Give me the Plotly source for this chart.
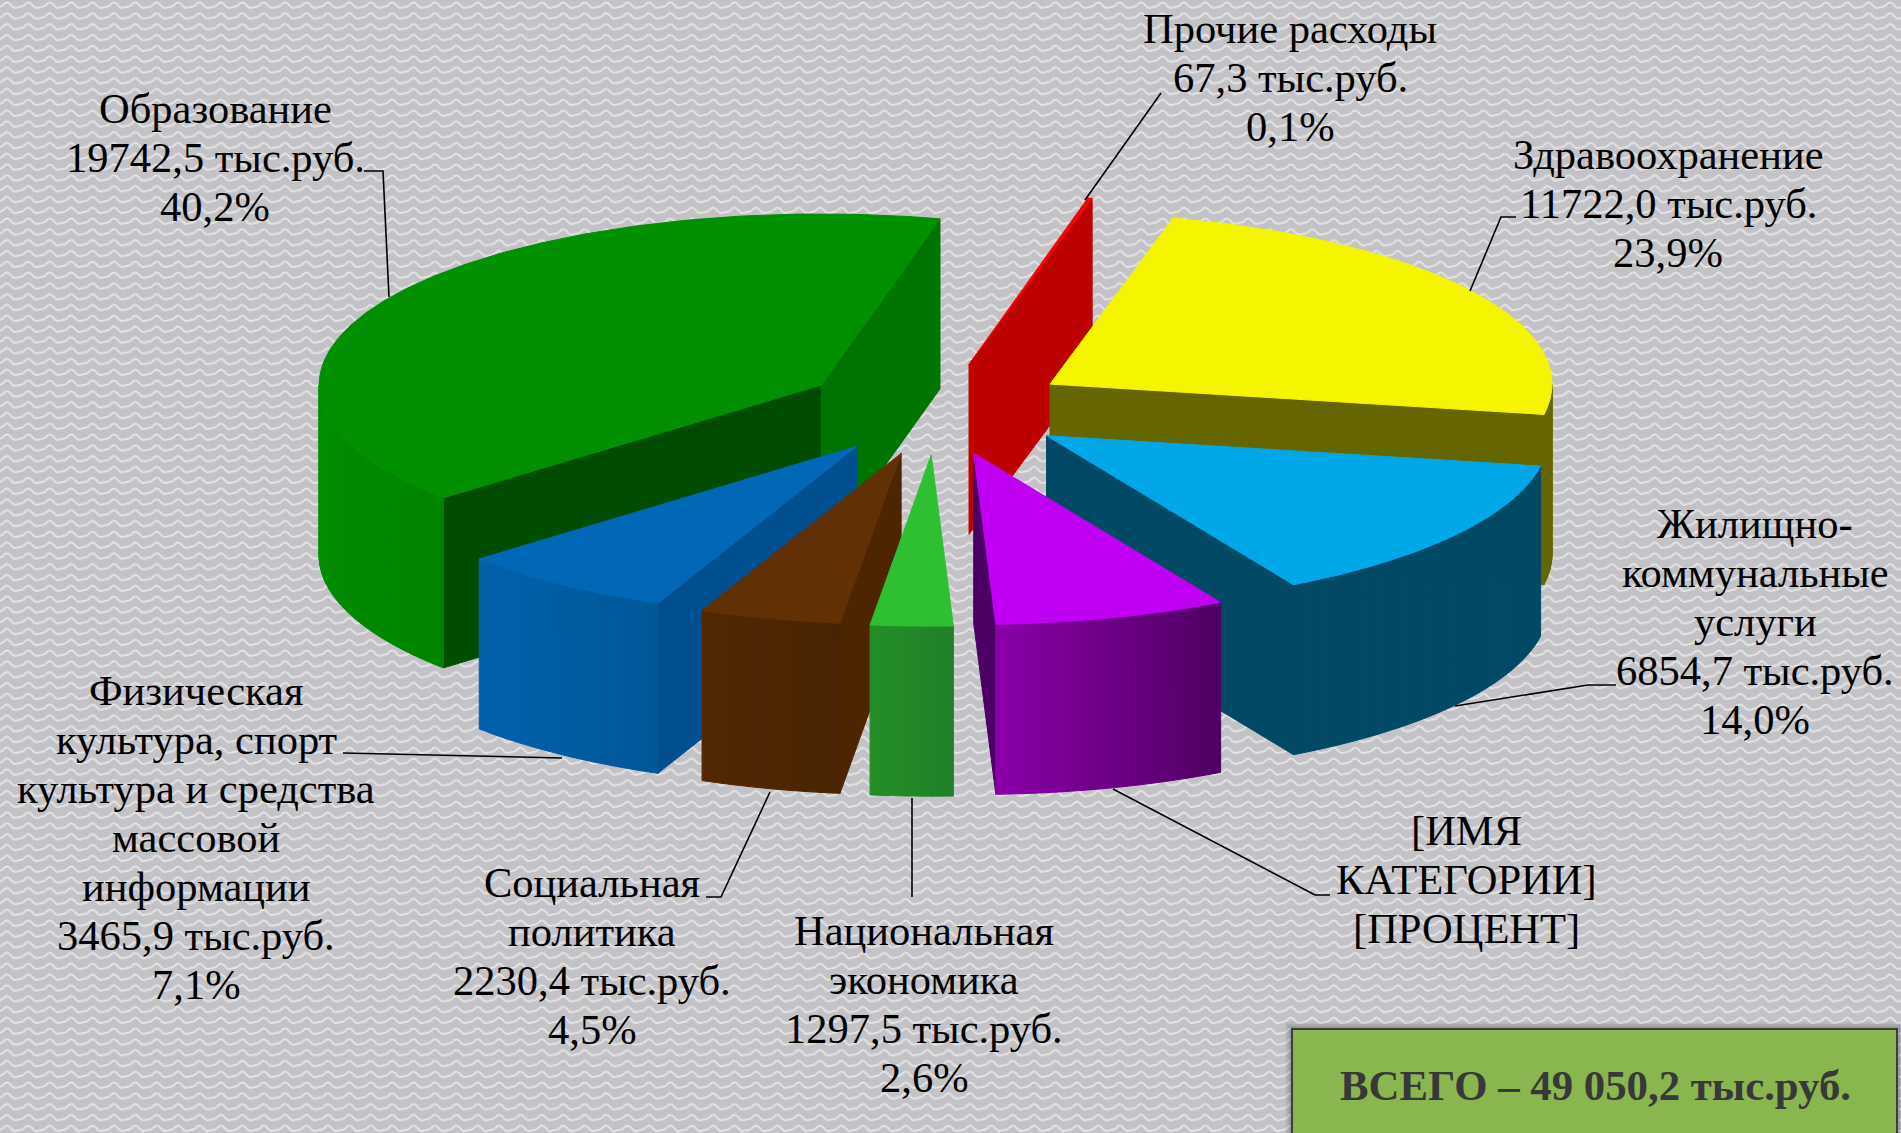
import base64
import math
import plotly.graph_objects as go

# ---------- data ----------
categories = ["Прочие расходы", "Здравоохранение", "Жилищно-коммунальные услуги",
              "[ИМЯ КАТЕГОРИИ]", "Национальная экономика", "Социальная политика",
              "Физическая культура, спорт, культура и средства массовой информации",
              "Образование"]
values = [67.3, 11722.0, 6854.7, 3670.4, 1297.5, 2230.4, 3465.9, 19742.5]
top_colors = ["#ff0000", "#f5f500", "#00a8e8", "#c000f2", "#2fc032", "#613004", "#0068b6", "#009000"]
side_right = ["#c00000", "#666600", "#004a66", "#4e0062", "#20802a", "#4a2402", "#005898", "#008400"]
side_left = ["#c00000", "#666600", "#004a66", "#8a00a8", "#248e26", "#532803", "#0062ad", "#009000"]
cut_colors = ["#bd0000", "#666600", "#004a66", "#4b0063", "#20802a", "#4d2600", "#005090", "#004d00"]
cut2_colors = ["#bd0000", "#666600", "#004a66", "#4b0063", "#20802a", "#4d2600", "#005090", "#007400"]
draw_order = [7, 0, 1, 2, 6, 5, 3, 4]

label_texts = [
    "Прочие расходы<br>67,3 тыс.руб.<br>0,1%",
    "Здравоохранение<br>11722,0 тыс.руб.<br>23,9%",
    "Жилищно-<br>коммунальные<br>услуги<br>6854,7 тыс.руб.<br>14,0%",
    "[ИМЯ<br>КАТЕГОРИИ]<br>[ПРОЦЕНТ]",
    "Национальная<br>экономика<br>1297,5 тыс.руб.<br>2,6%",
    "Социальная<br>политика<br>2230,4 тыс.руб.<br>4,5%",
    "Физическая<br>культура, спорт<br>культура и средства<br>массовой<br>информации<br>3465,9 тыс.руб.<br>7,1%",
    "Образование<br>19742,5 тыс.руб.<br>40,2%",
]
label_x = [1290, 1668, 1755, 1466, 924, 592, 196, 215]
label_y = [77, 203, 621, 879, 1004, 956, 837, 157]

leader_x = [[1161, 1085], [1516, 1501, 1470], [1616, 1588, 1455], [1330, 1315, 1113],
            [912, 912], [706, 721, 770], [343, 562], [364, 383, 389]]
leader_y = [[93, 200], [217, 217, 291], [685, 685, 706], [895, 895, 789],
            [897, 798], [897, 897, 792], [753, 758], [171, 171, 297]]

total_text = "ВСЕГО – 49 050,2 тыс.руб."

# ---------- projection of the exploded 3-D pie ----------
W, H = 1901, 1133
CX, CY = 936.5, 409
RADIUS, TILT, DEPTH, EXPLODE = 502, 0.341, 170, 135
START_DEG = 13.7
LINE_STEP = 49


def project(angle, r):
    a = math.radians(angle)
    return r * math.sin(a), -r * math.cos(a) * TILT


def mix(c1, c2, t):
    a = [int(c1[i:i + 2], 16) for i in (1, 3, 5)]
    b = [int(c2[i:i + 2], 16) for i in (1, 3, 5)]
    return "#%02x%02x%02x" % tuple(round(p + (q - p) * t) for p, q in zip(a, b))


fig = go.Figure()


def poly(xs, ys, color):
    fig.add_trace(go.Scatter(x=xs + xs[:1], y=ys + ys[:1], mode="lines", fill="toself",
                             fillcolor=color, line=dict(color=color, width=1),
                             hoverinfo="skip", showlegend=False))


total = sum(values)
bounds = [START_DEG]
for v in values:
    bounds.append(bounds[-1] + v / total * 360)

for i in draw_order:
    a1, a2 = bounds[i], bounds[i + 1]
    mid = (a1 + a2) / 2
    ex, ey = project(mid, EXPLODE)
    ox, oy = CX + ex, CY + ey

    def rim(a):
        dx, dy = project(a, RADIUS)
        return ox + dx, oy + dy

    # cut faces (visible only when they face the viewer)
    for edge, normal, col in ((a1, a1 - 90, cut_colors[i]), (a2, a2 + 90, cut2_colors[i])):
        if -math.cos(math.radians(normal)) > 0.02:
            rx, ry = rim(edge)
            poly([ox, rx, rx, ox], [oy, ry, ry + DEPTH, oy + DEPTH], col)

    # outer curved wall, cut into strips for the shading
    lo, hi = max(a1, 90), min(a2, 270)
    if lo < hi:
        n = max(2, int((hi - lo) / 0.8))
        for k in range(n):
            s = lo + (hi - lo) * k / n
            e = lo + (hi - lo) * (k + 1) / n
            (x1, y1), (x2, y2) = rim(s), rim(e)
            poly([x1, x2, x2, x1], [y1, y2, y2 + DEPTH, y1 + DEPTH],
                 mix(side_right[i], side_left[i], (k + 0.5) / n))

    # top face
    n = max(2, int((a2 - a1) / 0.8))
    pts = [rim(a1 + (a2 - a1) * k / n) for k in range(n + 1)]
    fig.add_trace(go.Scatter(x=[ox] + [p[0] for p in pts] + [ox],
                             y=[oy] + [p[1] for p in pts] + [oy],
                             mode="lines", fill="toself", fillcolor=top_colors[i],
                             line=dict(color=top_colors[i], width=1),
                             name=categories[i], text=f"{categories[i]}: {values[i]}",
                             hoverinfo="text", showlegend=False))

# ---------- leader lines ----------
for lx, ly in zip(leader_x, leader_y):
    fig.add_trace(go.Scatter(x=lx, y=ly, mode="lines", line=dict(color="#000000", width=1.6),
                             hoverinfo="skip", showlegend=False))

# ---------- labels ----------
for text, x, y in zip(label_texts, label_x, label_y):
    rows = text.split("<br>")
    for j, row in enumerate(rows):
        fig.add_annotation(x=x, y=y + (j - (len(rows) - 1) / 2) * LINE_STEP, text=row,
                           showarrow=False, xanchor="center", yanchor="middle", align="center",
                           font=dict(family="Liberation Serif", size=42.5, color="#000000"))

# ---------- total box ----------
for off, op in ((7, 0.05), (5, 0.07), (3, 0.10), (1, 0.14)):
    fig.add_shape(type="rect", x0=1292 - off, x1=1897 + off, y0=1029 - off, y1=1140,
                  fillcolor="#000000", opacity=op, line_width=0, layer="below")
fig.add_shape(type="rect", x0=1292, x1=1897, y0=1029, y1=1140, fillcolor="#8ab650",
              line=dict(color="#3c3c3c", width=2), layer="below")
fig.add_annotation(x=1595, y=1085, text=f"<b>{total_text}</b>", showarrow=False,
                   font=dict(family="Liberation Serif", size=42.8, color="#383838"))

# ---------- textured slide background ----------
svg = f"""<svg xmlns='http://www.w3.org/2000/svg' width='{W}' height='{H}'>
<defs><pattern id='w' width='21.4' height='10.8' patternUnits='userSpaceOnUse'>
<path d='M0 6.6 C3.5 6.6 3.5 2.4 7 2.4 S10.5 6.6 14 7.6 S18 6.6 21.4 6.6' fill='none' stroke='#e4e4e6' stroke-width='1.9'/>
</pattern></defs><rect width='100%' height='100%' fill='#c3c3c7'/><rect width='100%' height='100%' fill='url(#w)'/></svg>"""
bg = "data:image/svg+xml;base64," + base64.b64encode(svg.encode()).decode()

fig.update_layout(
    width=W, height=H, autosize=False, margin=dict(l=0, r=0, t=0, b=0),
    paper_bgcolor="#c3c3c7", plot_bgcolor="rgba(0,0,0,0)", showlegend=False,
    xaxis=dict(range=[0, W], visible=False, fixedrange=True),
    yaxis=dict(range=[H, 0], visible=False, fixedrange=True),
    images=[dict(source=bg, xref="paper", yref="paper", x=0, y=1, sizex=1, sizey=1,
                 sizing="stretch", xanchor="left", yanchor="top", layer="below")],
)
fig.write_html("out.html", config={"displayModeBar": False},
               post_script="document.body.style.margin='0';document.documentElement.style.overflow='hidden';")
